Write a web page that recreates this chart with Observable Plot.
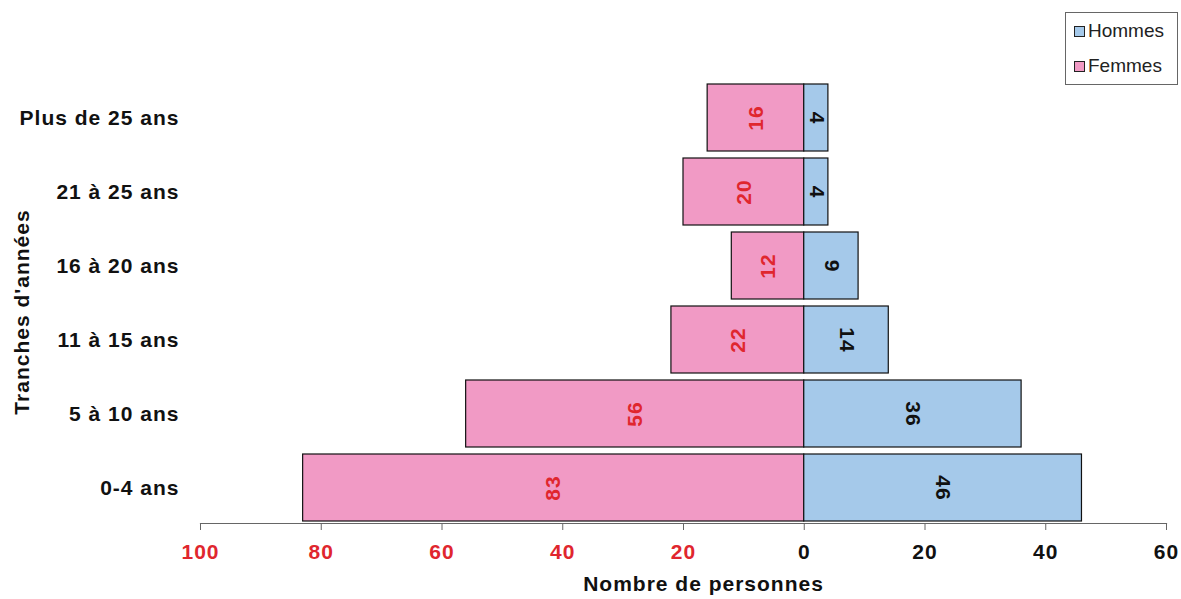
<!DOCTYPE html>
<html lang="fr">
<head>
<meta charset="utf-8">
<script src="https://cdn.jsdelivr.net/npm/d3@7"></script>
<script src="https://cdn.jsdelivr.net/npm/@observablehq/plot@0.6"></script>
<style>
  html, body { margin: 0; padding: 0; background: #fff; }
  #wrap { position: relative; width: 1181px; height: 599px; font-family: "Liberation Sans", Arial, sans-serif; }
  #legend {
    position: absolute; left: 1065px; top: 12px; width: 113px; height: 73px;
    border: 1px solid #666; box-sizing: border-box; background: #fff;
    font-size: 19px; color: #222;
  }
  #legend .item { position: absolute; left: 8px; display: flex; align-items: center; white-space: nowrap; }
  #legend .sw { width: 9px; height: 9px; border: 1.5px solid #222; margin-right: 3px; }
</style>
</head>
<body>
<div id="wrap">
  <div id="chart"></div>
  <div id="legend"></div>
</div>
<script>
// Age groups, top to bottom
const ageGroups = ["Plus de 25 ans", "21 à 25 ans", "16 à 20 ans", "11 à 15 ans", "5 à 10 ans", "0-4 ans"];
// Number of people per group
const femmes = [16, 20, 12, 22, 56, 83];
const hommes = [4, 4, 9, 14, 36, 46];
// Axis ticks (negative side shows women)
const xTicksFemmes = [-100, -80, -60, -40, -20];
const xTicksHommes = [0, 20, 40, 60];

const seriesNames = ["Hommes", "Femmes"];
const seriesColors = ["#a5c9ea", "#f19ac5"];
const redText = "#e0262e";

const rows = ageGroups.map((g, i) => ({group: g, femmes: femmes[i], hommes: hommes[i]}));

const font = "'Liberation Sans', Arial, sans-serif";
const W = 1181, H = 599;

const chart = Plot.plot({
  width: W,
  height: H,
  marginLeft: 200,
  marginRight: 15,
  marginTop: 76,
  marginBottom: 76,
  style: {fontFamily: font, background: "#fff"},
  x: {domain: [-100, 60]},
  y: {domain: ageGroups, range: [76, 528], padding: 0.1},
  marks: [
    // Women on the left
    Plot.barX(rows, {y: "group", x1: 0, x2: d => -d.femmes, fill: seriesColors[1], stroke: "#111", strokeWidth: 1.2}),
    // Men on the right
    Plot.barX(rows, {y: "group", x1: 0, x2: d => d.hommes, fill: seriesColors[0], stroke: "#111", strokeWidth: 1.2}),
    // Values inside the bars
    Plot.text(rows, {y: "group", x: d => -d.femmes / 2, text: d => String(d.femmes), rotate: -90,
      fill: redText, fontWeight: "bold", fontSize: 21}),
    Plot.text(rows, {y: "group", x: d => d.hommes / 2, text: d => String(d.hommes), rotate: 90,
      fill: "#111", fontWeight: "bold", fontSize: 21}),
    // Bottom axis line
    Plot.frame({anchor: "bottom", stroke: "#666", strokeWidth: 1.2}),
    Plot.axisX({ticks: xTicksFemmes, tickFormat: d => Math.abs(d), tickSize: 7, tickPadding: 14,
      stroke: "#666", fill: redText, fontSize: 21, fontWeight: "bold", label: null}),
    Plot.axisX({ticks: xTicksHommes, tickFormat: d => Math.abs(d), tickSize: 7, tickPadding: 14,
      stroke: "#666", fill: "#111", fontSize: 21, fontWeight: "bold", label: null}),
    Plot.axisY({tickSize: 0, tickPadding: 21, fontSize: 21, fontWeight: "bold", fill: "#111", label: null}),
    // Axis titles
    Plot.text(["Nombre de personnes"], {frameAnchor: "bottom", dx: 20, dy: 61, lineAnchor: "middle",
      textAnchor: "middle", fontSize: 21, fontWeight: "bold", fill: "#111"}),
    Plot.text(["Tranches d'années"], {frameAnchor: "left", dx: -178, dy: 12, rotate: -90, lineAnchor: "middle",
      textAnchor: "middle", fontSize: 21, fontWeight: "bold", fill: "#111"})
  ]
});

d3.select(chart).selectAll("text").style("letter-spacing", "1px");
document.getElementById("chart").appendChild(chart);

// Legend box
const legend = d3.select("#legend");
seriesNames.forEach((name, i) => {
  const item = legend.append("div").attr("class", "item").style("top", (i === 0 ? 7 : 42) + "px");
  item.append("div").attr("class", "sw").style("background", seriesColors[i]);
  item.append("span").text(name);
});
</script>
</body>
</html>
